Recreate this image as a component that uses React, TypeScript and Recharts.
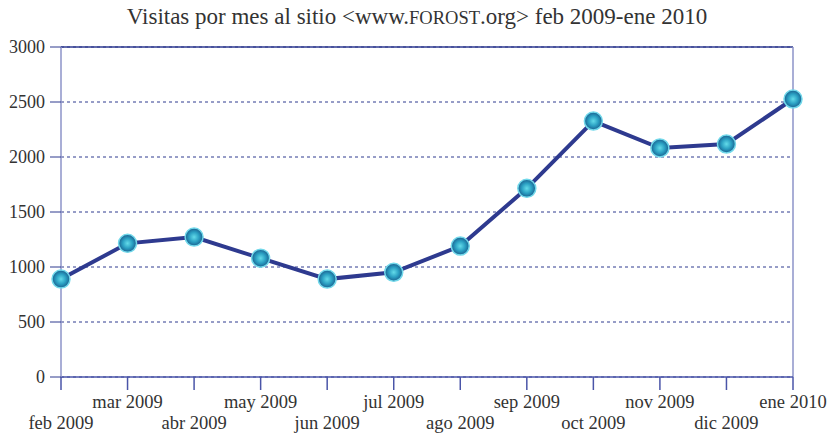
import { CartesianGrid, Line, LineChart, ReferenceLine, XAxis, YAxis } from "recharts";

const months = [
  "feb 2009", "mar 2009", "abr 2009", "may 2009", "jun 2009", "jul 2009",
  "ago 2009", "sep 2009", "oct 2009", "nov 2009", "dic 2009", "ene 2010",
];
const visits = [890, 1215, 1272, 1080, 890, 952, 1190, 1715, 2327, 2082, 2118, 2527];
const yTicks = [0, 500, 1000, 1500, 2000, 2500, 3000];

const data = months.map((month, i) => ({ month, visits: visits[i] }));

const font = "'Liberation Serif', 'DejaVu Serif', serif";
const navy = "#2e3a8f";
const axisLight = "#8d93c8";

function MonthTick(props: any) {
  const { x, y, payload, index } = props;
  const dy = index % 2 === 0 ? 37 : 16;
  return (
    <text x={x} y={y + dy} textAnchor="middle" fontFamily={font} fontSize={18.5} fill="#333">
      {payload.value}
    </text>
  );
}

function Dot(props: any) {
  const { cx, cy } = props;
  if (cx == null || cy == null) return null;
  return <circle cx={cx} cy={cy} r={9} fill="url(#dotGrad)" stroke="#72d8ea" strokeWidth={1.5} />;
}

export default function App() {
  return (
    <div style={{ position: "absolute", left: 0, top: 0, width: 828, height: 433, background: "#fff" }}>
      <div
        style={{
          position: "absolute",
          top: 4,
          left: 0,
          width: 834,
          textAlign: "center",
          fontFamily: font,
          fontSize: 23,
          color: "#333",
        }}
      >
        Visitas por mes al sitio &lt;www.<span style={{ fontSize: 18.5 }}>FOROST</span>.org&gt; feb 2009-ene 2010
      </div>
      <LineChart width={828} height={433} data={data} margin={{ top: 47, right: 35, left: 0, bottom: 0 }}>
        <defs>
          <radialGradient id="dotGrad" cx="50%" cy="50%" r="50%">
            <stop offset="0%" stopColor="#63dbe9" />
            <stop offset="55%" stopColor="#2a9fc2" />
            <stop offset="100%" stopColor="#1a5f8e" />
          </radialGradient>
        </defs>
        <CartesianGrid vertical={false} stroke={navy} strokeDasharray="3 3" />
        <ReferenceLine y={3000} stroke={navy} strokeWidth={1.5} />
        <ReferenceLine x="ene 2010" stroke={axisLight} strokeWidth={1.5} />
        <XAxis
          dataKey="month"
          interval={0}
          height={56}
          tickSize={13}
          tickMargin={2}
          axisLine={{ stroke: "#4a55a8", strokeWidth: 1.5 }}
          tickLine={{ stroke: "#4a55a8", strokeWidth: 1.5 }}
          tick={<MonthTick />}
        />
        <YAxis
          width={61}
          domain={[0, 3000]}
          ticks={yTicks}
          tickSize={11}
          tickMargin={5}
          axisLine={{ stroke: axisLight, strokeWidth: 1.5 }}
          tickLine={{ stroke: navy }}
          tick={{ fontFamily: font, fontSize: 18, fill: "#333" }}
        />
        <Line
          type="linear"
          dataKey="visits"
          stroke={navy}
          strokeWidth={4}
          dot={<Dot />}
          activeDot={false}
          isAnimationActive={false}
        />
      </LineChart>
    </div>
  );
}
